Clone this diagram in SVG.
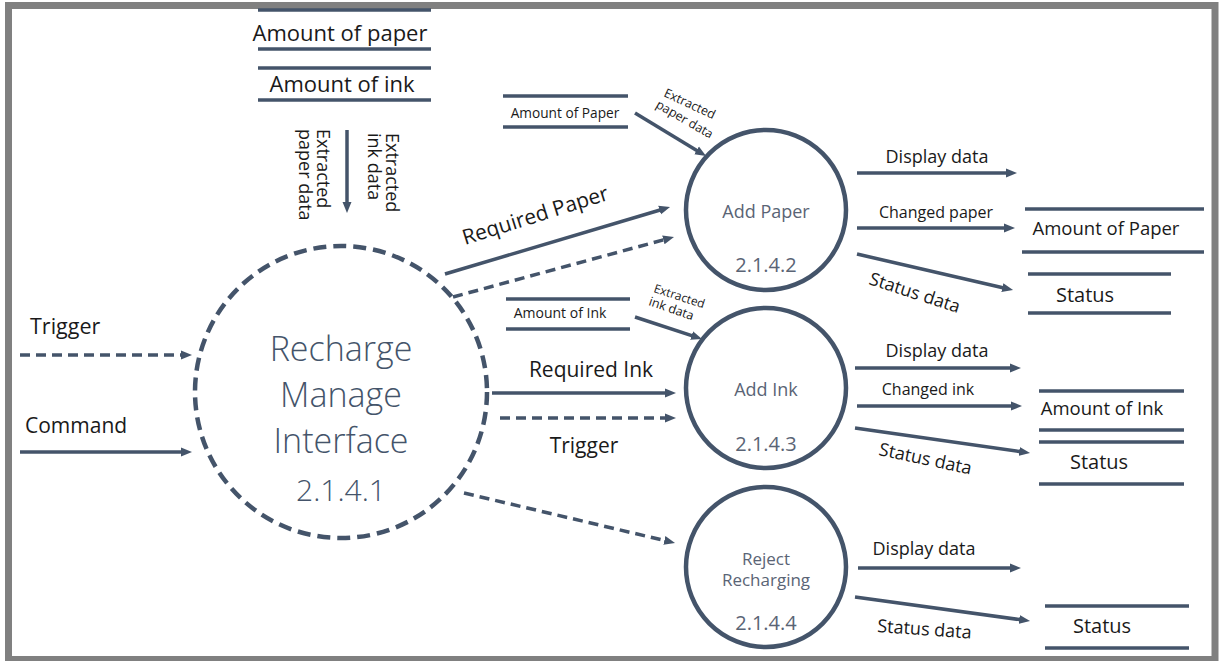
<svg xmlns="http://www.w3.org/2000/svg" width="1220" height="661" viewBox="0 0 1220 661">
<style>
text{font-family:"Open Sans","Noto Sans",sans-serif}
.lbl{fill:#1a1a1a}
.nd{fill:#5a6475}
.big{fill:#44546a;font-weight:300}
.ln{stroke:#44546a;stroke-width:3.5;fill:none}
.ds{stroke:#44546a;stroke-width:3.5;fill:none;stroke-dasharray:10 6}
.st{stroke:#44546a;stroke-width:3.5}
.c{fill:#fff;stroke:#44546a;stroke-width:4.5}
</style>
<defs>
<marker id="ah" viewBox="0 0 11 10" refX="5" refY="5" markerWidth="11" markerHeight="10" markerUnits="userSpaceOnUse" orient="auto">
<path d="M0,0.5 L11,5 L0,9.5 z" fill="#44546a"/>
</marker>
</defs>
<rect x="0" y="0" width="1220" height="661" fill="#fff"/>
<rect x="8.5" y="5.5" width="1206.5" height="654" fill="#fff" stroke="#808080" stroke-width="7"/>

<g id="connectors">
<line class="ds" x1="20" y1="355" x2="186" y2="355" marker-end="url(#ah)"/>
<line class="ln" x1="20" y1="452" x2="186" y2="452" marker-end="url(#ah)"/>
<line class="ln" x1="347" y1="130" x2="347" y2="207" marker-end="url(#ah)"/>
<line class="ln" x1="445" y1="274" x2="664.3" y2="208.7" marker-end="url(#ah)"/>
<line class="ds" x1="453" y1="297" x2="668.2" y2="238.6" marker-end="url(#ah)"/>
<line class="ln" x1="635" y1="113" x2="700.9" y2="152.9" marker-end="url(#ah)"/>
<line class="ln" x1="635" y1="317" x2="696.3" y2="337.1" marker-end="url(#ah)"/>
<line class="ln" x1="492" y1="393" x2="670" y2="393" marker-end="url(#ah)"/>
<line class="ds" x1="500" y1="418" x2="670" y2="418" marker-end="url(#ah)"/>
<line class="ds" x1="464" y1="493" x2="669.2" y2="541.6" marker-end="url(#ah)"/>
<line class="ln" x1="857" y1="173" x2="1011" y2="173" marker-end="url(#ah)"/>
<line class="ln" x1="857" y1="228" x2="1009" y2="228" marker-end="url(#ah)"/>
<line class="ln" x1="857" y1="254" x2="1007.2" y2="288.7" marker-end="url(#ah)"/>
<line class="ln" x1="855" y1="368" x2="1015" y2="368" marker-end="url(#ah)"/>
<line class="ln" x1="857" y1="406" x2="1016" y2="406" marker-end="url(#ah)"/>
<line class="ln" x1="855" y1="428" x2="1024.1" y2="452.2" marker-end="url(#ah)"/>
<line class="ln" x1="858" y1="568" x2="1015" y2="568" marker-end="url(#ah)"/>
<line class="ln" x1="855" y1="597" x2="1024.1" y2="620.2" marker-end="url(#ah)"/>
</g>

<g id="connector-labels">
<text class="lbl" x="30" y="334" font-size="21.5">Trigger</text>
<text class="lbl" x="25" y="433" font-size="21">Command</text>
<text class="lbl" font-size="18" transform="translate(317,129) rotate(90)">Extracted</text>
<text class="lbl" font-size="18" transform="translate(299,129) rotate(90)">paper data</text>
<text class="lbl" font-size="18" transform="translate(386,133) rotate(90)">Extracted</text>
<text class="lbl" font-size="18" transform="translate(368,133) rotate(90)">ink data</text>
<text class="lbl" font-size="21" transform="translate(465,245) rotate(-17.5)">Required Paper</text>
<text class="lbl" font-size="12.5" transform="translate(663,96) rotate(25)">Extracted</text>
<text class="lbl" font-size="12.5" transform="translate(655,107) rotate(30)">paper data</text>
<text class="lbl" font-size="12" transform="translate(653,292) rotate(18)">Extracted</text>
<text class="lbl" font-size="12.5" transform="translate(648,305) rotate(19)">ink data</text>
<text class="lbl" x="591" y="377" font-size="21" text-anchor="middle">Required Ink</text>
<text class="lbl" x="584" y="453" font-size="21" text-anchor="middle">Trigger</text>
<text class="lbl" x="937" y="163" font-size="18" text-anchor="middle">Display data</text>
<text class="lbl" x="936" y="218" font-size="16" text-anchor="middle">Changed paper</text>
<text class="lbl" font-size="18" transform="translate(868,284) rotate(18)">Status data</text>
<text class="lbl" x="937" y="357" font-size="18" text-anchor="middle">Display data</text>
<text class="lbl" x="928" y="395" font-size="16" text-anchor="middle">Changed ink</text>
<text class="lbl" font-size="18" transform="translate(878,455) rotate(12)">Status data</text>
<text class="lbl" x="924" y="555" font-size="18" text-anchor="middle">Display data</text>
<text class="lbl" font-size="18" transform="translate(877,632) rotate(4)">Status data</text>
</g>

<g id="store-amount-of-paper-top">
<line class="st" x1="258" y1="10" x2="431" y2="10"/>
<text class="lbl" x="340" y="41" font-size="22" text-anchor="middle">Amount of paper</text>
<line class="st" x1="258" y1="49" x2="431" y2="49"/>
</g>
<g id="store-amount-of-ink-top">
<line class="st" x1="258" y1="68" x2="431" y2="68"/>
<text class="lbl" x="342" y="92" font-size="22" text-anchor="middle">Amount of ink</text>
<line class="st" x1="258" y1="100" x2="431" y2="100"/>
</g>

<g id="node-2141">
<circle cx="341" cy="392" r="146" fill="#fff" stroke="#44546a" stroke-width="4.5" stroke-dasharray="13 7"/>
<text class="big" x="341" y="361" font-size="34" text-anchor="middle">Recharge</text>
<text class="big" x="341" y="407" font-size="34" text-anchor="middle">Manage</text>
<text class="big" x="341" y="453" font-size="34" text-anchor="middle">Interface</text>
<text class="big" x="341" y="501" font-size="30" text-anchor="middle">2.1.4.1</text>
</g>

<g id="store-amount-of-paper-small">
<line class="st" x1="503" y1="96" x2="628" y2="96"/>
<text class="lbl" x="565" y="118" font-size="13.7" text-anchor="middle">Amount of Paper</text>
<line class="st" x1="503" y1="127" x2="628" y2="127"/>
</g>
<g id="store-amount-of-ink-small">
<line class="st" x1="506" y1="299" x2="630" y2="299"/>
<text class="lbl" x="560" y="318" font-size="14" text-anchor="middle">Amount of Ink</text>
<line class="st" x1="506" y1="329" x2="630" y2="329"/>
</g>

<g id="node-2142">
<circle class="c" cx="766" cy="210" r="80"/>
<text class="nd" x="766" y="218" font-size="18" text-anchor="middle">Add Paper</text>
<text class="nd" x="766" y="272" font-size="20" text-anchor="middle">2.1.4.2</text>
</g>
<g id="node-2143">
<circle class="c" cx="766" cy="388" r="80"/>
<text class="nd" x="766" y="396" font-size="18" text-anchor="middle">Add Ink</text>
<text class="nd" x="766" y="451" font-size="20" text-anchor="middle">2.1.4.3</text>
</g>
<g id="node-2144">
<circle class="c" cx="766" cy="567" r="80"/>
<text class="nd" x="766" y="565" font-size="17" text-anchor="middle">Reject</text>
<text class="nd" x="766" y="586" font-size="17" text-anchor="middle">Recharging</text>
<text class="nd" x="766" y="630" font-size="20" text-anchor="middle">2.1.4.4</text>
</g>

<g id="store-amount-of-paper-right">
<line class="st" x1="1025" y1="209" x2="1204" y2="209"/>
<text class="lbl" x="1106" y="235" font-size="18.5" text-anchor="middle">Amount of Paper</text>
<line class="st" x1="1022" y1="252" x2="1204" y2="252"/>
</g>
<g id="store-status-paper">
<line class="st" x1="1028" y1="274" x2="1171" y2="274"/>
<text class="lbl" x="1085" y="302" font-size="20" text-anchor="middle">Status</text>
<line class="st" x1="1028" y1="313" x2="1171" y2="313"/>
</g>
<g id="store-amount-of-ink-right">
<line class="st" x1="1039" y1="391" x2="1184" y2="391"/>
<text class="lbl" x="1102" y="415" font-size="18.5" text-anchor="middle">Amount of Ink</text>
<line class="st" x1="1039" y1="430" x2="1184" y2="430"/>
</g>
<g id="store-status-ink">
<line class="st" x1="1039" y1="442" x2="1184" y2="442"/>
<text class="lbl" x="1099" y="469" font-size="20" text-anchor="middle">Status</text>
<line class="st" x1="1039" y1="484" x2="1184" y2="484"/>
</g>
<g id="store-status-reject">
<line class="st" x1="1045" y1="606" x2="1189" y2="606"/>
<text class="lbl" x="1102" y="633" font-size="20" text-anchor="middle">Status</text>
<line class="st" x1="1045" y1="648" x2="1189" y2="648"/>
</g>
</svg>
